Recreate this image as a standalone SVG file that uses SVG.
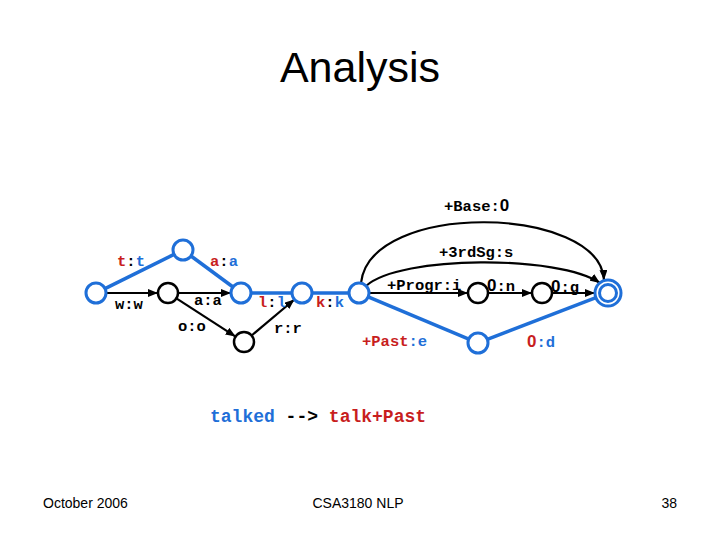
<svg xmlns="http://www.w3.org/2000/svg" width="720" height="540" viewBox="0 0 720 540">
<style>
.bg{fill:#fff}
.title{font-family:"Liberation Sans",Arial,sans-serif;font-size:43px;fill:#000;text-anchor:middle}
.foot{font-family:"Liberation Sans",Arial,sans-serif;font-size:14px;fill:#000}
.lbl{font-family:"Liberation Mono","Courier New",monospace;font-size:15.5px;font-weight:bold;fill:#000}
.big{font-family:"Liberation Mono","Courier New",monospace;font-size:18px;font-weight:bold}
.zero{font-family:"Liberation Sans",Arial,sans-serif;font-size:17px;font-weight:bold}
.r{fill:#c81e1e}
.b{fill:#1f6fd8}
.k{fill:#000}
.nb{fill:#fff;stroke:#1f6fd8;stroke-width:3}
.nk{fill:#fff;stroke:#000;stroke-width:2.5}
.eb{stroke:#1f6fd8;stroke-width:3.5;fill:none}
.ek{stroke:#000;stroke-width:2.2;fill:none;marker-end:url(#ah)}
</style>
<defs>
<marker id="ah" markerUnits="userSpaceOnUse" markerWidth="10" markerHeight="8" refX="10" refY="4" orient="auto">
<path d="M0,0 L10,4 L0,8 z" fill="#000"/>
</marker>
</defs>
<rect class="bg" x="0" y="0" width="720" height="540"/>
<text class="title" x="360" y="82">Analysis</text>

<g id="connectors">
<line class="eb" x1="105" y1="288.6" x2="174" y2="254.4"/>
<line class="eb" x1="191" y1="256" x2="233" y2="287"/>
<line class="ek" x1="106" y1="293" x2="158" y2="293"/>
<line class="ek" x1="178" y1="293" x2="231" y2="293"/>
<line class="ek" x1="176.4" y1="298.4" x2="235.6" y2="336.6"/>
<line class="ek" x1="251.6" y1="335.5" x2="294.4" y2="299.5"/>
<line class="eb" x1="251" y1="293" x2="292" y2="293"/>
<line class="eb" x1="312" y1="293" x2="349" y2="293"/>
<path class="ek" d="M361,283 C370,200 600,205 604,280"/>
<path class="ek" d="M366,286 C400,255 560,255 600,283"/>
<line class="ek" x1="369" y1="293" x2="468" y2="293"/>
<line class="ek" x1="488" y1="293" x2="532" y2="293"/>
<line class="ek" x1="552" y1="293" x2="595" y2="293"/>
<line class="eb" x1="368.2" y1="296.9" x2="468.8" y2="339.1"/>
<line class="eb" x1="487.3" y1="339.4" x2="595.9" y2="297.7"/>
</g>

<g id="n0"><circle class="nb" cx="96" cy="293" r="10"/></g>
<g id="n1"><circle class="nb" cx="183" cy="250" r="10"/></g>
<g id="n2"><circle class="nk" cx="168" cy="293" r="10"/></g>
<g id="n3"><circle class="nb" cx="241" cy="293" r="10"/></g>
<g id="n4"><circle class="nk" cx="244" cy="342" r="10"/></g>
<g id="n5"><circle class="nb" cx="302" cy="293" r="10"/></g>
<g id="n6"><circle class="nb" cx="359" cy="293" r="10"/></g>
<g id="n7"><circle class="nk" cx="478" cy="293" r="10"/></g>
<g id="n8"><circle class="nk" cx="542" cy="293" r="10"/></g>
<g id="n9"><circle class="nb" cx="608" cy="293" r="13"/><circle class="nb" cx="608" cy="293" r="8.5"/></g>
<g id="n10"><circle class="nb" cx="478" cy="343" r="10"/></g>

<g id="labels">
<text class="lbl" x="117" y="266"><tspan class="r">t</tspan><tspan class="k">:</tspan><tspan class="b">t</tspan></text>
<text class="lbl" x="210" y="266"><tspan class="r">a</tspan><tspan class="k">:</tspan><tspan class="b">a</tspan></text>
<text class="lbl" x="115" y="309">w:w</text>
<text class="lbl" x="194" y="305">a:a</text>
<text class="lbl" x="178" y="331">o:o</text>
<text class="lbl" x="258" y="307"><tspan class="r">l</tspan><tspan class="k">:</tspan><tspan class="b">l</tspan></text>
<text class="lbl" x="274" y="333">r:r</text>
<text class="lbl" x="316" y="307"><tspan class="r">k</tspan><tspan class="k">:</tspan><tspan class="b">k</tspan></text>
<text class="lbl" x="444" y="211">+Base:<tspan class="zero">0</tspan></text>
<text class="lbl" x="439" y="257">+3rdSg:s</text>
<text class="lbl" x="387" y="290">+Progr:i</text>
<text class="lbl" x="487" y="291"><tspan class="zero">0</tspan>:n</text>
<text class="lbl" x="551" y="292"><tspan class="zero">0</tspan>:g</text>
<text class="lbl" x="362" y="346"><tspan class="r">+Past</tspan><tspan class="b">:e</tspan></text>
<text class="lbl" x="527" y="347"><tspan class="zero r">0</tspan><tspan class="b">:d</tspan></text>
<text class="big" x="210" y="422"><tspan class="b">talked</tspan><tspan class="k"> --&gt; </tspan><tspan class="r">talk+Past</tspan></text>
</g>

<text class="foot" x="43" y="508">October 2006</text>
<text class="foot" x="358" y="508" text-anchor="middle">CSA3180 NLP</text>
<text class="foot" x="677" y="508" text-anchor="end">38</text>
</svg>
